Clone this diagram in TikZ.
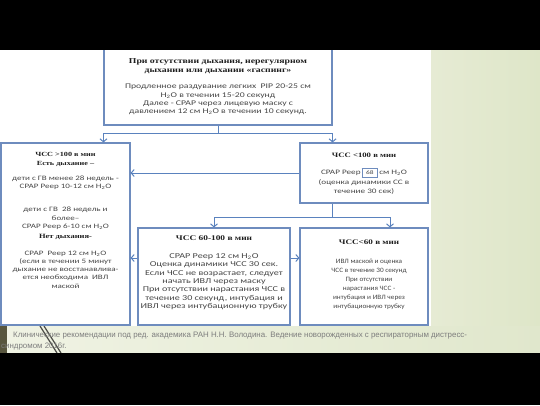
\documentclass[tikz,border=0pt]{standalone}
\usepackage{fontspec}
\setmainfont{Carlito}
\newfontfamily\bodyf[FakeStretch=1.35]{Carlito}
\newfontfamily\bodyn[FakeStretch=1.1]{Carlito}
\newfontfamily\ttlf[FakeStretch=1.3]{Liberation Serif}
\newfontfamily\capf{Liberation Sans}
\usetikzlibrary{arrows.meta}
\definecolor{boxc}{RGB}{110,140,190}
\definecolor{linec}{RGB}{90,130,190}
\definecolor{textc}{RGB}{70,70,70}
\definecolor{ttlc}{RGB}{30,30,30}
\definecolor{panelL}{RGB}{230,235,212}
\definecolor{panelR}{RGB}{222,230,200}
\definecolor{bandL}{RGB}{240,243,228}
\definecolor{bandR}{RGB}{224,231,204}
\definecolor{stripc}{RGB}{88,86,62}
\definecolor{decoc}{RGB}{75,75,70}
\definecolor{capc}{RGB}{125,125,125}
\newcommand\hd[2]{{\ttlf\bfseries\color{ttlc}\fontsize{#1}{8.4}\selectfont #2}}
\newcommand\hto{H\textsubscript{2}O}
\begin{document}
\begin{tikzpicture}[x=1pt,y=-1pt,
  box/.style={draw=boxc,line width=1.1pt,fill=white,inner sep=0pt},
  conn/.style={draw=linec,line width=1pt},
  arr/.style={conn,-{Straight Barb[length=3pt,width=7pt]}},
  txt/.style={anchor=north,inner sep=0pt,align=center,text=textc},
  capt/.style={inner sep=0pt,text=capc,font=\capf\fontsize{7.9}{10}\selectfont}]
\useasboundingbox (0,0) rectangle (540,405);
% background
\fill[white] (0,0) rectangle (540,405);
\fill[left color=panelL,right color=panelR] (431,50) rectangle (540,326);
\fill[left color=bandL,right color=bandR] (0,326) rectangle (540,353);
\fill[stripc] (0,326) rectangle (7,353);
\draw[decoc,line width=1.2pt] (40,326) -- (57,353);
\draw[decoc,line width=1.2pt] (44,326) -- (61,353);
% boxes
\node[box,minimum width=228pt,minimum height=95pt] (T) at (218,77.5) {};
\node[box,minimum width=129pt,minimum height=182pt] (L) at (65.5,234) {};
\node[box,minimum width=128pt,minimum height=60pt] (R1) at (364,173) {};
\node[box,minimum width=152pt,minimum height=97pt] (M) at (214,276.5) {};
\node[box,minimum width=128pt,minimum height=97pt] (R2) at (364,276.5) {};
% black bars
\fill[black] (0,0) rectangle (540,50);
\fill[black] (0,353) rectangle (540,405);
% connectors
\coordinate (j1) at (218,133);
\draw[conn] (T.south) -- (j1);
\draw[arr] (j1) -| (T.west |- L.north);
\draw[arr] (j1) -| (T.east |- R1.north);
\draw[arr] (R1.west) -- (R1.west -| L.east);
\coordinate (j2) at (332,217);
\draw[conn] (j2 |- R1.south) -- (j2);
\draw[arr] (j2) -| (M.north);
\draw[arr] (j2) -| ([xshift=26pt]R2.north);
\coordinate (k) at (0,258);
\draw[arr] (M.west |- k) -- (L.east |- k);
\draw[arr] (M.east |- k) -- (R2.west |- k);
% texts
\node[txt,font=\bodyf\fontsize{7.2}{8.4}\selectfont] (Tt) at (218,58.5)
 {\hd{7.5}{При отсутствии дыхания, нерегулярном}\\
  \hd{7.5}{дыхании или дыхании «гаспинг»}\\[8.2pt]
  Продленное раздувание легких\ \ PIP 20-25 см\\
  \hto{} в течении 15-20 секунд\\
  Далее - CPAP через лицевую маску с\\
  давлением 12 см \hto{} в течении 10 секунд.};
\node[txt,font=\bodyf\fontsize{6.7}{8.3}\selectfont] (Lt) at (65.5,152.5)
 {\hd{6.3}{ЧСС >100 в мин}\\
  \hd{6.3}{Есть дыхание –}\\[7pt]
  дети с ГВ менее 28 недель -\\
  CPAP Peep 10-12 см \hto\\[14.7pt]
  дети с ГВ\ \ 28 недель и\\
  более–\\
  CPAP Peep 6-10 см \hto\\[1.7pt]
  \hd{6.5}{Нет дыхания-}\\[8.4pt]
  CPAP\ \ Peep 12 см \hto\\
  (если в течении 5 минут\\
  дыхание не восстанавлива-\\
  ется необходима\ \ ИВЛ\\
  маской};
\node[txt,font=\bodyf\fontsize{6.8}{9.2}\selectfont] (R1t) at (364,153)
 {\hd{6.7}{ЧСС <100 в мин}\\[8pt]
  CPAP Peep\,\smash{\setlength\fboxsep{2pt}\setlength\fboxrule{0.7pt}\fcolorbox{boxc}{white}{\makebox[11pt]{\fontsize{5.5}{6}\selectfont 68}}}\,см \hto\\
  (оценка динамики СС в\\
  течение 30 сек)};
\node[txt,font=\bodyf\fontsize{7.5}{8.4}\selectfont] (Mt) at (214,236)
 {\hd{7.2}{ЧСС 60-100 в мин}\\[9pt]
  CPAP Peep 12 см \hto\\
  Оценка динамики ЧСС 30 сек.\\
  Если ЧСС не возрастает, следует\\
  начать ИВЛ через маску\\
  При отсутствии нарастания ЧСС в\\
  течение 30 секунд, интубация и\\
  ИВЛ через интубационную трубку};
\node[txt,font=\bodyn\fontsize{6.6}{8.9}\selectfont] (R2t) at (369,240)
 {\hd{7}{ЧСС<60 в мин}\\[10pt]
  ИВЛ маской и оценка\\
  ЧСС в течение 30 секунд\\
  При отсутствии\\
  нарастания ЧСС -\\
  интубация и ИВЛ через\\
  интубационную трубку};
% caption
\node[capt,anchor=base west] (cap1) at (13,337) {Клинические рекомендации под ред. академика РАН Н.Н. Володина. Ведение новорожденных с респираторным дистресс-};
\node[capt,anchor=base west] (cap2) at (1,348.5) {синдромом 2016г.};
\end{tikzpicture}
\end{document}
